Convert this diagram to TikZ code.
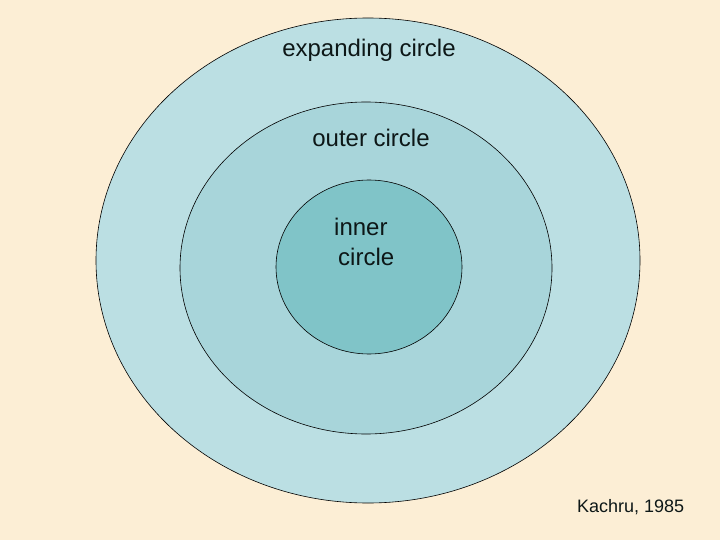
\documentclass[tikz,border=0pt]{standalone}
\usepackage{fontspec}
\setmainfont{Liberation Sans}
\usetikzlibrary{shapes.geometric}
\definecolor{bg}{HTML}{FCEED5}
\definecolor{ringA}{HTML}{BBDFE3}
\definecolor{ringB}{HTML}{A8D5DA}
\definecolor{ringC}{HTML}{80C4C8}
\definecolor{txt}{HTML}{0D1717}
\tikzset{
  ring/.style={ellipse, draw=black, line width=0.6pt, inner sep=0pt},
  lbl/.style={text=txt, font=\fontsize{24}{28}\selectfont, inner sep=0pt, anchor=base},
}
\begin{document}
\begin{tikzpicture}[x=1pt,y=-1pt]
\fill[bg] (0,0) rectangle (720,540);
\useasboundingbox (0,0) rectangle (720,540);
\node[ring, fill=ringA, minimum width=544pt, minimum height=485pt] (expanding) at (368,260.5) {};
\node[ring, fill=ringB, minimum width=372pt, minimum height=332pt] (outer) at (366,268) {};
\node[ring, fill=ringC, minimum width=186pt, minimum height=174pt] (inner) at (369,267) {};
\node[lbl] (t1) at (369,57) {expanding circle};
\node[lbl] (t2) at (371,147) {outer circle};
\node[lbl, anchor=base west] (t3) at (334,236) {inner};
\node[lbl, anchor=base west] (t4) at (338,265) {circle};
\node[lbl, anchor=base west, font=\fontsize{18}{21}\selectfont] (t5) at (577,512) {Kachru, 1985};
\end{tikzpicture}
\end{document}
